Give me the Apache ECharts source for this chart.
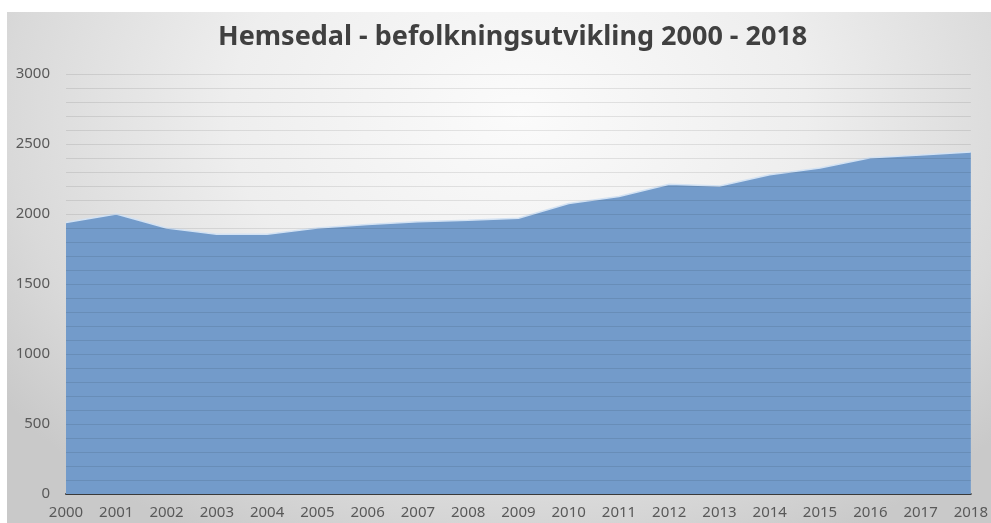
<!DOCTYPE html>
<html>
<head>
<meta charset="utf-8">
<script src="https://cdn.jsdelivr.net/npm/echarts@6/dist/echarts.min.js"></script>
<style>
  html, body { margin: 0; padding: 0; background: #ffffff; }
  #chart {
    position: absolute; left: 7px; top: 12px; width: 984px; height: 511px;
    background: radial-gradient(ellipse 65% 95% at 52% 20%, #fbfbfb 0%, #eeeeee 45%, #d9d9d9 80%, #c9c9c9 100%);
  }
</style>
</head>
<body>
<div id="chart"></div>
<script>
var years = ['2000','2001','2002','2003','2004','2005','2006','2007','2008','2009',
             '2010','2011','2012','2013','2014','2015','2016','2017','2018'];
var population = [1940, 2000, 1900, 1855, 1855, 1900, 1925, 1945, 1955, 1970,
                  2075, 2125, 2212, 2200, 2280, 2328, 2402, 2422, 2443];

var mychart = echarts.init(document.getElementById('chart'));
var option = {
  backgroundColor: 'transparent',
  title: {
    text: 'Hemsedal - befolkningsutvikling 2000 - 2018',
    left: 206,
    top: 7,
    textStyle: { fontFamily: 'Noto Sans', fontWeight: 'bold', fontSize: 27, color: '#404040' }
  },
  grid: { left: 59, right: 15, top: 62, bottom: 29 },
  xAxis: {
    type: 'category',
    data: years,
    boundaryGap: false,
    axisLine: { lineStyle: { color: '#404040', width: 2 } },
    axisTick: { show: false },
    axisLabel: { interval: 0, fontFamily: 'Noto Sans', fontSize: 15, color: '#595959', margin: 11 }
  },
  yAxis: {
    type: 'value',
    min: 0,
    max: 3000,
    interval: 500,
    z: 3,
    axisLine: { show: false },
    axisTick: { show: false },
    axisLabel: {
      fontFamily: 'Noto Sans', fontSize: 15, color: '#595959', margin: 16,
      formatter: function (v) { return String(v); }
    },
    splitLine: { lineStyle: { color: 'rgba(0,0,0,0.09)', width: 1 } },
    minorTick: { show: false, splitNumber: 5 },
    minorSplitLine: { show: true, lineStyle: { color: 'rgba(0,0,0,0.09)', width: 1 } }
  },
  series: [{
    type: 'line',
    z: 1,
    data: population,
    showSymbol: false,
    lineStyle: { color: '#d3e2f3', width: 1.5 },
    areaStyle: { color: '#739bca', opacity: 1 }
  }]
};
option && mychart.setOption(option);
</script>
</body>
</html>
